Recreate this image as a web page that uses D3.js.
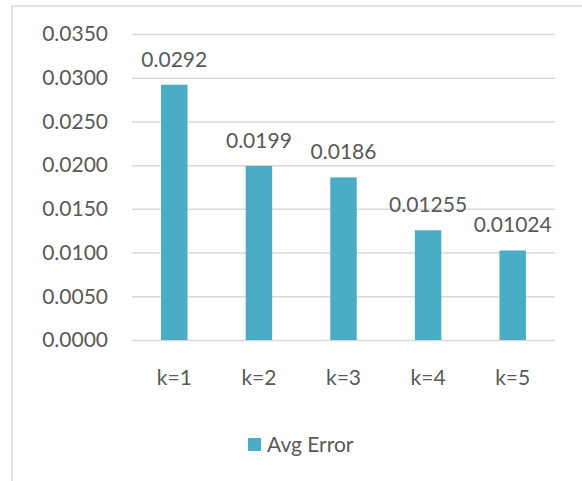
<!DOCTYPE html>
<html>
<head>
<meta charset="utf-8">
<script src="https://d3js.org/d3.v7.min.js"></script>
<style>
  body { margin: 0; background: #fff; }
  svg { display: block; font-family: Lato, "Open Sans", sans-serif; }
</style>
</head>
<body>
<div id="chart"></div>
<script>
// chart data
const categories = ['k=1', 'k=2', 'k=3', 'k=4', 'k=5'];
const avgError = [0.0292, 0.0199, 0.0186, 0.01255, 0.01024];
const labels = ['0.0292', '0.0199', '0.0186', '0.01255', '0.01024'];
const yTicks = [0, 0.005, 0.01, 0.015, 0.02, 0.025, 0.03, 0.035];
const seriesName = 'Avg Error';

const width = 582, height = 481;
const plot = {left: 132, right: 555, top: 34, bottom: 340};
const textColor = '#595959';
const barColor = '#4BACC6';
const fontSize = 21;

const svg = d3.select('#chart')
    .append('svg')
    .attr('width', width)
    .attr('height', height);

// outer chart frame (cropped at right and bottom)
svg.append('rect')
    .attr('x', 12)
    .attr('y', 6)
    .attr('width', 620)
    .attr('height', 520)
    .attr('fill', '#fff')
    .attr('stroke', '#d9d9d9')
    .attr('stroke-width', 1.5);

const x = d3.scaleBand()
    .domain(categories)
    .range([plot.left, plot.right])
    .padding(0);

const y = d3.scaleLinear()
    .domain([0, 0.035])
    .range([plot.bottom, plot.top]);

// gridlines + y labels
const yAxis = d3.axisLeft(y)
    .tickValues(yTicks)
    .tickSize(-(plot.right - plot.left))
    .tickPadding(24)
    .tickFormat(d3.format('.4f'));

const yg = svg.append('g')
    .attr('transform', `translate(${plot.left},0)`)
    .call(yAxis);
yg.select('.domain').remove();
yg.selectAll('.tick line')
    .attr('stroke', '#d9d9d9')
    .attr('stroke-width', 1.5);
yg.selectAll('.tick text')
    .attr('fill', textColor)
    .attr('font-size', fontSize)
    .attr('font-family', 'Lato, sans-serif');

// x labels
const xAxis = d3.axisBottom(x).tickSize(0).tickPadding(30);
const xg = svg.append('g')
    .attr('transform', `translate(0,${plot.bottom})`)
    .call(xAxis);
xg.select('.domain').remove();
xg.selectAll('.tick text')
    .attr('fill', textColor)
    .attr('font-size', fontSize)
    .attr('font-family', 'Lato, sans-serif');

// bars
const barW = x.bandwidth() * 0.313;
svg.append('g')
    .selectAll('rect')
    .data(avgError)
    .join('rect')
    .attr('x', (d, i) => x(categories[i]) + (x.bandwidth() - barW) / 2)
    .attr('y', d => y(d))
    .attr('width', barW)
    .attr('height', d => y(0) - y(d))
    .attr('fill', barColor);

// data labels
svg.append('g')
    .selectAll('text')
    .data(avgError)
    .join('text')
    .attr('x', (d, i) => x(categories[i]) + x.bandwidth() / 2)
    .attr('y', d => y(d) - 18)
    .attr('text-anchor', 'middle')
    .attr('fill', textColor)
    .attr('font-size', fontSize)
    .text((d, i) => labels[i]);

// legend
const legend = svg.append('g').attr('transform', 'translate(248,438)');
legend.append('rect')
    .attr('width', 13)
    .attr('height', 13)
    .attr('fill', barColor);
legend.append('text')
    .attr('x', 19)
    .attr('y', 14)
    .attr('fill', textColor)
    .attr('font-size', fontSize)
    .text(seriesName);
</script>
</body>
</html>
